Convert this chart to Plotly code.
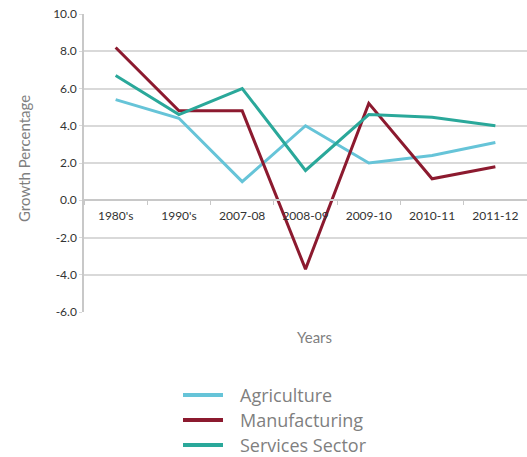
import plotly.graph_objects as go

# Sector growth rates by period
periods = ["1980's", "1990's", "2007-08", "2008-09", "2009-10", "2010-11", "2011-12"]
agriculture = [5.4, 4.4, 1.0, 4.0, 2.0, 2.4, 3.1]
manufacturing = [8.2, 4.8, 4.8, -3.7, 5.2, 1.15, 1.8]
services = [6.7, 4.6, 6.0, 1.6, 4.6, 4.45, 4.0]

y_ticks = [10, 8, 6, 4, 2, 0, -2, -4, -6]

series = [
    ("Agriculture", agriculture, "#66c4d8"),
    ("Manufacturing", manufacturing, "#8c1a2f"),
    ("Services Sector", services, "#2aa89a"),
]

W, H = 527, 457
L, R, T, B = 84, 0, 14, 145
PW, PH = W - L - R, H - T - B


def px_x(x):
    return (x - L) / PW


def px_y(y):
    return (H - B - y) / PH


fig = go.Figure()
for name, vals, color in series:
    fig.add_trace(go.Scatter(
        x=periods, y=vals, name=name, mode="lines",
        line=dict(color=color, width=3), showlegend=False,
    ))

# Legend drawn below the plot: a short coloured bar and a label per series
shapes, annotations = [], []
for i, (name, _, color) in enumerate(series):
    yc = px_y(395 + 25 * i)
    shapes.append(dict(type="line", xref="paper", yref="paper",
                       x0=px_x(183), x1=px_x(223), y0=yc, y1=yc,
                       line=dict(color=color, width=4)))
    annotations.append(dict(text=name, xref="paper", yref="paper",
                            x=px_x(238), y=yc, xanchor="left", yanchor="middle",
                            showarrow=False,
                            font=dict(family="Open Sans", size=18, color="#7f7f7f")))

annotations += [
    dict(text="Years", xref="paper", yref="paper", x=px_x(314), y=px_y(337),
         xanchor="center", yanchor="middle", showarrow=False,
         font=dict(family="Lato", size=15, color="#7f7f7f")),
    dict(text="Growth Percentage", xref="paper", yref="paper",
         x=px_x(24), y=px_y(158), xanchor="center", yanchor="middle",
         textangle=-90, showarrow=False,
         font=dict(family="Lato", size=15, color="#7f7f7f")),
]

grid = "#d9d9d9"
fig.update_layout(
    width=W, height=H,
    margin=dict(l=L, r=R, t=T, b=B),
    paper_bgcolor="white", plot_bgcolor="white",
    font=dict(family="Lato", color="#333333"),
    showlegend=False,
    xaxis=dict(
        type="category", range=[-0.5, 6.5],
        anchor="free", position=6 / 16,
        showline=True, linecolor="#c8c8c8", linewidth=1.5,
        ticks="outside", tickson="boundaries", ticklen=4, tickcolor="#c8c8c8",
        ticklabelstandoff=5,
        showgrid=False, tickfont=dict(size=12, color="#333333"),
        automargin=False,
    ),
    yaxis=dict(
        range=[-6, 10], tickvals=y_ticks,
        ticktext=[f"{v:.1f}" for v in y_ticks],
        showgrid=True, gridcolor=grid, gridwidth=1.5, zeroline=False,
        showline=True, linecolor="#c8c8c8", linewidth=1.5,
        ticks="outside", ticklen=3, tickcolor=grid,
        tickfont=dict(size=12, color="#333333"),
        automargin=False,
    ),
    shapes=shapes,
    annotations=annotations,
)

fig.write_html("out.html")
